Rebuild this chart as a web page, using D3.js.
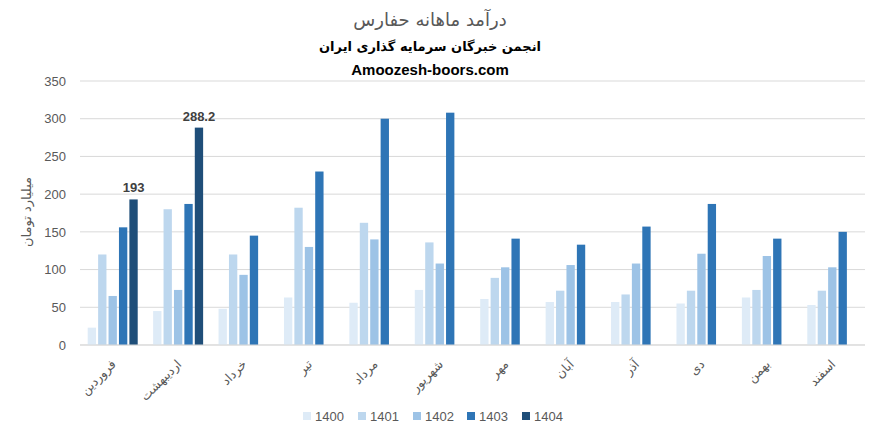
<!DOCTYPE html>
<html><head><meta charset="utf-8">
<script src="https://cdn.jsdelivr.net/npm/d3@7"></script>
<style>body{margin:0;background:#fff}svg{display:block}</style>
</head><body>
<svg id="c" width="891" height="433"></svg>
<script>
const categories = ["فروردین","اردیبهشت","خرداد","تیر","مرداد","شهریور","مهر","آبان","آذر","دی","بهمن","اسفند"];
const seriesNames = ["1400","1401","1402","1403","1404"];
const v1400 = [23,45,48,63,56,73,61,57,57,55,63,53];
const v1401 = [120,180,120,182,162,136,89,72,67,72,73,72];
const v1402 = [65,73,93,130,140,108,103,106,108,121,118,103];
const v1403 = [156,187,145,230,300,308,141,133,157,187,141,150];
const v1404 = [193,288.2,null,null,null,null,null,null,null,null,null,null];
const yTicks = [0,50,100,150,200,250,300,350];
const colors = ["#deebf7","#bdd7ee","#9dc3e6","#2e75b6","#1f4e79"];
const allSeries = [v1400,v1401,v1402,v1403,v1404];

const svg = d3.select("#c");
const L = 80, R = 865, T = 81, B = 345;
const fontLat = "'Liberation Sans','DejaVu Sans',sans-serif";
const fontAr = "'DejaVu Sans',sans-serif";

const x0 = d3.scaleBand().domain(categories).range([L, R]).padding(0);
const groupW = 50;
const x1 = d3.scaleBand().domain(seriesNames).range([0, groupW]).paddingInner(0.2).paddingOuter(0);
const y = d3.scaleLinear().domain([0, 350]).range([B, T]);

// gridlines
svg.append("g").selectAll("line").data(yTicks).join("line")
  .attr("x1", L).attr("x2", R)
  .attr("y1", d => y(d)).attr("y2", d => y(d))
  .attr("stroke", "#d9d9d9").attr("stroke-width", 1);

// y axis labels
const yAxis = d3.axisLeft(y).tickValues(yTicks).tickSize(0).tickPadding(0);
const gy = svg.append("g").attr("transform", `translate(${L-14},0)`).call(yAxis);
gy.select(".domain").remove();
gy.selectAll("text").attr("fill", "#595959").style("font-size", "13px").style("font-family", fontLat);

// bars
const data = [];
categories.forEach((c, i) => {
  seriesNames.forEach((s, j) => {
    const v = allSeries[j][i];
    if (v != null) data.push({c, s, v, j});
  });
});
const off = (x0.bandwidth() - groupW) / 2;
svg.append("g").selectAll("rect").data(data).join("rect")
  .attr("x", d => x0(d.c) + off + x1(d.s))
  .attr("width", x1.bandwidth())
  .attr("y", d => y(d.v))
  .attr("height", d => y(0) - y(d.v))
  .attr("fill", d => colors[d.j]);

// data labels for 1404
svg.append("g").selectAll("text").data(data.filter(d => d.s === "1404")).join("text")
  .attr("x", d => x0(d.c) + off + x1(d.s) + x1.bandwidth()/2)
  .attr("y", d => y(d.v) - 7)
  .attr("text-anchor", "middle")
  .attr("fill", "#404040").style("font-size", "13px").style("font-weight", "bold")
  .style("font-family", fontLat)
  .text(d => d.v);

// x axis line
svg.append("line").attr("x1", L).attr("x2", R).attr("y1", B).attr("y2", B)
  .attr("stroke", "#d9d9d9").attr("stroke-width", 1);

// x labels
const xAxis = d3.axisBottom(x0).tickSize(0).tickPadding(0);
const gx = svg.append("g").attr("transform", `translate(0,${B})`).call(xAxis);
gx.select(".domain").remove();
gx.selectAll("text")
  .attr("fill", "#595959").style("font-size", "12.5px").style("font-family", fontAr)
  .attr("text-anchor", "end")
  .attr("dy", null).attr("y", 0)
  .attr("transform", "translate(4,20) rotate(-45)");

// y title
svg.append("text")
  .attr("transform", "translate(31,212) rotate(-90)")
  .attr("text-anchor", "middle")
  .attr("fill", "#595959").style("font-size", "13px").style("font-family", fontAr)
  .text("میلیارد تومان");

// titles
svg.append("text").attr("x", 430).attr("y", 26).attr("text-anchor", "middle")
  .attr("fill", "#595959").style("font-size", "18px").style("font-family", fontAr)
  .text("درآمد ماهانه حفارس");
svg.append("text").attr("x", 430).attr("y", 51).attr("text-anchor", "middle")
  .attr("fill", "#000").style("font-size", "13px").style("font-weight", "bold").style("font-family", fontAr)
  .text("انجمن خبرگان سرمایه گذاری ایران");
svg.append("text").attr("x", 430).attr("y", 75).attr("text-anchor", "middle")
  .attr("fill", "#000").style("font-size", "15px").style("font-weight", "bold").style("font-family", fontLat)
  .text("Amoozesh-boors.com");

// legend
const legX = [303, 358, 413, 467, 522];
const leg = svg.append("g").selectAll("g").data(seriesNames).join("g")
  .attr("transform", (d, i) => `translate(${legX[i]},412)`);
leg.append("rect").attr("width", 8).attr("height", 8).attr("fill", (d, i) => colors[i]);
leg.append("text").attr("x", 12).attr("y", 8.5)
  .attr("fill", "#595959").style("font-size", "13px").style("font-family", fontLat)
  .text(d => d);
</script>
</body></html>
